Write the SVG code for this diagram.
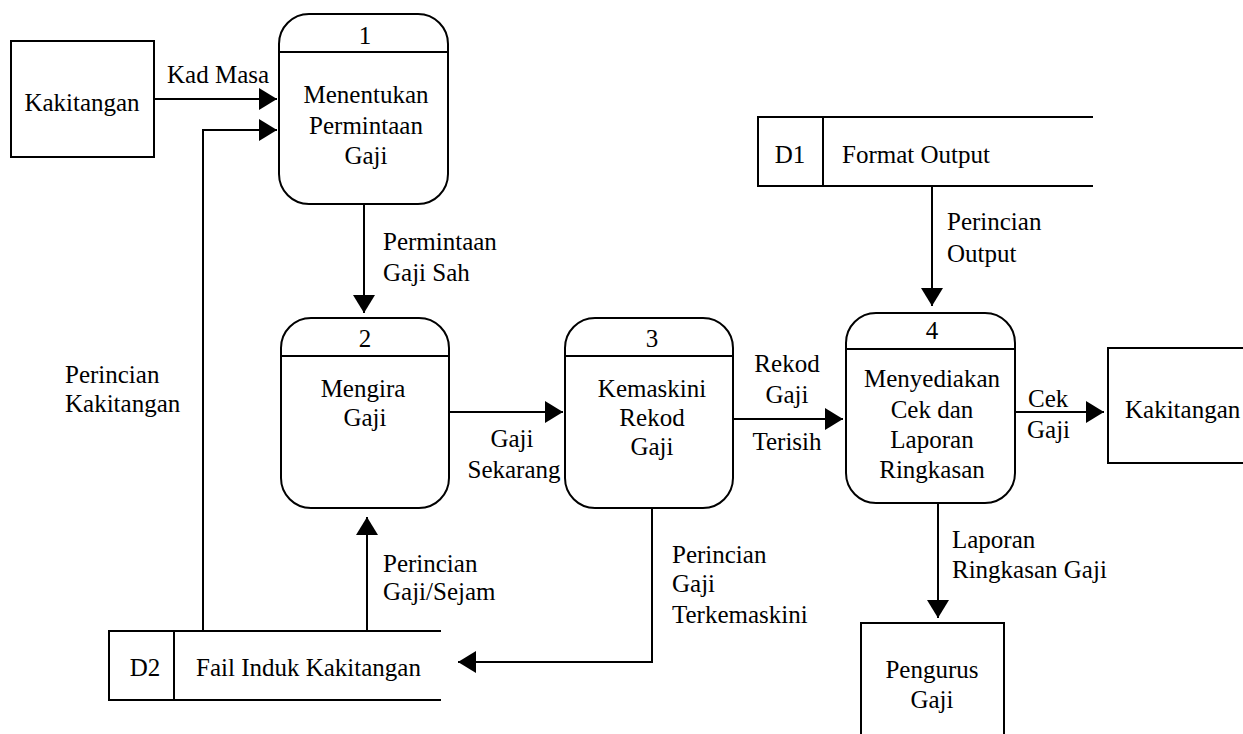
<svg xmlns="http://www.w3.org/2000/svg" width="1243" height="734" viewBox="0 0 1243 734">
<style>
text{font-family:"Liberation Serif","Times New Roman",serif;font-size:25px;fill:#000}
.c{text-anchor:middle}
.box{fill:#fff;stroke:#000;stroke-width:2}
.ln{fill:none;stroke:#000;stroke-width:2}
.ar{fill:none;stroke:#000;stroke-width:2;marker-end:url(#ah)}
</style>
<defs>
<marker id="ah" markerUnits="userSpaceOnUse" markerWidth="20" markerHeight="24" refX="18" refY="11" orient="auto">
<path d="M0,0 L18,11 L0,22 z" fill="#000"/>
</marker>
</defs>
<rect width="1243" height="734" fill="#fff"/>

<g id="connectors">
<line class="ar" x1="154" y1="99" x2="277" y2="99"/>
<polyline class="ar" points="203,631 203,130 277,130"/>
<line class="ar" x1="364" y1="204" x2="364" y2="313"/>
<line class="ar" x1="449" y1="412" x2="563" y2="412"/>
<line class="ar" x1="733" y1="419" x2="843" y2="419"/>
<line class="ar" x1="1015" y1="412" x2="1104" y2="412"/>
<line class="ar" x1="932" y1="187" x2="932" y2="306"/>
<line class="ar" x1="938" y1="503" x2="938" y2="618"/>
<line class="ar" x1="367" y1="631" x2="367" y2="517"/>
<polyline class="ar" points="652,507 652,662 458,662"/>
<text x="167" y="83">Kad Masa</text>
<text x="383" y="250">Permintaan</text>
<text x="383" y="281">Gaji Sah</text>
<text x="65" y="383">Perincian</text>
<text x="65" y="412">Kakitangan</text>
<text class="c" x="512" y="447">Gaji</text>
<text class="c" x="514" y="478">Sekarang</text>
<text class="c" x="787" y="372">Rekod</text>
<text class="c" x="787" y="403">Gaji</text>
<text class="c" x="787" y="450">Terisih</text>
<text x="1028" y="407">Cek</text>
<text x="1027" y="438">Gaji</text>
<text x="383" y="572">Perincian</text>
<text x="383" y="600">Gaji/Sejam</text>
<text x="672" y="563">Perincian</text>
<text x="672" y="592">Gaji</text>
<text x="672" y="623">Terkemaskini</text>
<text x="947" y="230">Perincian</text>
<text x="947" y="262">Output</text>
<text x="952" y="548">Laporan</text>
<text x="952" y="578">Ringkasan Gaji</text>
</g>

<g id="ext-kakitangan-1">
<rect class="box" x="11" y="41" width="143" height="116"/>
<text class="c" x="82" y="111">Kakitangan</text>
</g>

<g id="proc-1">
<rect class="box" x="279" y="14" width="169" height="190" rx="30"/>
<line class="ln" x1="279" y1="52" x2="448" y2="52"/>
<text class="c" x="365" y="44">1</text>
<text class="c" x="366" y="103">Menentukan</text>
<text class="c" x="366" y="134">Permintaan</text>
<text class="c" x="366" y="164">Gaji</text>
</g>

<g id="proc-2">
<rect class="box" x="281" y="318" width="168" height="190" rx="30"/>
<line class="ln" x1="281" y1="356" x2="449" y2="356"/>
<text class="c" x="365" y="347">2</text>
<text class="c" x="363" y="397">Mengira</text>
<text class="c" x="365" y="426">Gaji</text>
</g>

<g id="proc-3">
<rect class="box" x="565" y="318" width="168" height="190" rx="30"/>
<line class="ln" x1="565" y1="356" x2="733" y2="356"/>
<text class="c" x="652" y="347">3</text>
<text class="c" x="652" y="397">Kemaskini</text>
<text class="c" x="652" y="426">Rekod</text>
<text class="c" x="652" y="455">Gaji</text>
</g>

<g id="proc-4">
<rect class="box" x="846" y="313" width="169" height="190" rx="30"/>
<line class="ln" x1="846" y1="349" x2="1015" y2="349"/>
<text class="c" x="932" y="339">4</text>
<text class="c" x="932" y="387">Menyediakan</text>
<text class="c" x="932" y="418">Cek dan</text>
<text class="c" x="932" y="448">Laporan</text>
<text class="c" x="932" y="478">Ringkasan</text>
</g>

<g id="store-d1">
<polyline class="ln" points="1093,117 758,117 758,186 1093,186"/>
<line class="ln" x1="823" y1="117" x2="823" y2="186"/>
<text class="c" x="790" y="163">D1</text>
<text x="842" y="163">Format Output</text>
</g>

<g id="store-d2">
<polyline class="ln" points="441,631 109,631 109,700 441,700"/>
<line class="ln" x1="174" y1="631" x2="174" y2="700"/>
<text class="c" x="145" y="676">D2</text>
<text x="196" y="676">Fail Induk Kakitangan</text>
</g>

<g id="ext-kakitangan-2">
<rect class="box" x="1108" y="348" width="150" height="115"/>
<text x="1125" y="418">Kakitangan</text>
</g>

<g id="ext-pengurus">
<rect class="box" x="861" y="623" width="143" height="130"/>
<text class="c" x="932" y="678">Pengurus</text>
<text class="c" x="932" y="708">Gaji</text>
</g>
</svg>
